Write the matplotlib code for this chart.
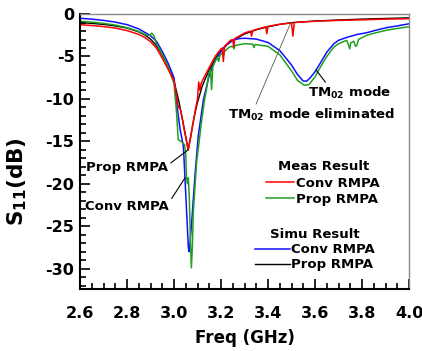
import matplotlib
matplotlib.use('Agg')
import matplotlib.pyplot as plt
from matplotlib.ticker import MultipleLocator

plt.rcParams['font.family'] = ['DejaVu Sans']
plt.rcParams['font.weight'] = 'bold'
plt.rcParams['mathtext.fontset'] = 'dejavusans'

# Simulated, proposed RMPA (black)
sim_prop_f = [2.60, 2.65, 2.70, 2.75, 2.80, 2.85, 2.875, 2.90, 2.925, 2.95, 2.975,
              3.00, 3.02, 3.04, 3.06, 3.07, 3.08, 3.09, 3.10, 3.12, 3.135, 3.15,
              3.175, 3.20, 3.225, 3.25, 3.30, 3.35, 3.40, 3.45, 3.50, 3.60, 3.70,
              3.80, 3.90, 4.00]
sim_prop_db = [-1.00, -1.10, -1.22, -1.40, -1.65, -2.10, -2.45, -2.95, -3.70, -4.80, -6.20,
               -7.90, -10.2, -13.0, -16.0, -14.6, -13.0, -11.6, -10.4, -8.5, -7.5, -6.6,
               -5.3, -4.3, -3.6, -3.1, -2.35, -1.85, -1.50, -1.22, -1.02, -0.82, -0.70,
               -0.60, -0.52, -0.45]

# Simulated, conventional RMPA (blue)
sim_conv_f = [2.60, 2.65, 2.70, 2.75, 2.80, 2.85, 2.90, 2.925, 2.95, 2.975, 3.00,
              3.011, 3.026, 3.04, 3.047, 3.054, 3.061, 3.064, 3.068, 3.075, 3.089,
              3.103, 3.125, 3.15, 3.175, 3.20, 3.225, 3.25, 3.275, 3.30, 3.35, 3.40,
              3.45, 3.50, 3.525, 3.55, 3.565, 3.58, 3.60, 3.62, 3.65, 3.68, 3.70,
              3.735, 3.78, 3.82, 3.86, 3.905, 3.95, 4.00]
sim_conv_db = [-0.50, -0.60, -0.75, -0.95, -1.25, -1.75, -2.55, -3.20, -4.40, -5.80, -7.50,
               -10.5, -13.6, -15.6, -19.5, -23.5, -27.5, -28.0, -27.0, -24.6, -19.1,
               -14.4, -10.1, -7.2, -5.5, -4.4, -3.6, -3.1, -2.9, -2.85, -2.95, -3.35,
               -4.30, -6.00, -7.10, -7.90, -7.90, -7.50, -6.80, -5.90, -4.50, -3.50, -3.10,
               -2.75, -2.40, -2.20, -1.90, -1.60, -1.40, -1.15]

# Measured, proposed RMPA (green)
meas_prop_f = [2.60, 2.65, 2.70, 2.75, 2.80, 2.85, 2.88, 2.895, 2.905, 2.915, 2.925,
               2.95, 2.975, 3.00, 3.011, 3.018, 3.03, 3.045, 3.05, 3.053, 3.057,
               3.061, 3.065, 3.07, 3.074, 3.078, 3.082, 3.096, 3.118, 3.13, 3.14,
               3.148, 3.155, 3.16, 3.165, 3.175, 3.185, 3.19, 3.195, 3.205, 3.21,
               3.215, 3.235, 3.25, 3.255, 3.26, 3.30, 3.335, 3.34, 3.345, 3.40,
               3.45, 3.50, 3.525, 3.555, 3.575, 3.60, 3.62, 3.65, 3.68, 3.70,
               3.735, 3.742, 3.748, 3.752, 3.765, 3.772, 3.778, 3.785, 3.82, 3.86,
               3.905, 3.95, 4.00]
meas_prop_db = [-0.85, -0.95, -1.10, -1.30, -1.60, -2.05, -2.45, -2.55, -2.25, -2.55, -3.50,
                -4.70, -6.20, -8.20, -11.7, -14.8, -15.0, -15.4, -16.5, -19.2, -20.0,
                -19.3, -21.5, -27.0, -29.9, -27.5, -23.4, -17.5, -12.5, -10.1, -8.6,
                -7.0, -6.6, -8.9, -6.2, -5.6, -5.1, -5.6, -4.9, -4.6, -5.0,
                -4.4, -3.9, -3.8, -4.1, -3.7, -3.5, -3.55, -3.95, -3.6, -3.8,
                -4.8, -6.7, -7.8, -8.4, -8.3, -7.4, -6.4, -5.0, -3.9, -3.5,
                -3.1, -3.6, -4.1, -3.4, -3.2, -3.8, -3.7, -3.0, -2.5, -2.2,
                -1.9, -1.7, -1.5]

# Measured, conventional RMPA (red)
meas_conv_f = [2.60, 2.65, 2.70, 2.75, 2.80, 2.85, 2.875, 2.90, 2.925, 2.95, 2.975,
               3.00, 3.018, 3.028, 3.035, 3.045, 3.061, 3.07, 3.08, 3.09, 3.10,
               3.105, 3.11, 3.115, 3.125, 3.15, 3.175, 3.20, 3.205, 3.21, 3.215,
               3.24, 3.25, 3.254, 3.258, 3.30, 3.325, 3.33, 3.335, 3.39, 3.395,
               3.40, 3.45, 3.50, 3.506, 3.512, 3.60, 3.70, 3.80, 3.90, 4.00]
meas_conv_db = [-1.25, -1.35, -1.48, -1.65, -1.95, -2.40, -2.75, -3.25, -4.00, -5.20, -6.50,
                -7.90, -10.9, -11.3, -12.3, -13.8, -16.0, -14.6, -13.0, -11.4, -10.0,
                -8.0, -9.0, -8.2, -7.6, -6.3, -5.0, -4.1, -4.0, -5.6, -3.8,
                -3.1, -3.0, -3.9, -2.9, -2.25, -2.0, -2.6, -1.95, -1.5, -2.3,
                -1.45, -1.2, -1.05, -2.6, -1.0, -0.85, -0.75, -0.68, -0.6, -0.55]

fig = plt.figure(figsize=(4.22, 3.51), dpi=100)
ax = fig.add_axes([0.1896, 0.1766, 0.7796, 0.7834])

l_sp, = ax.plot(sim_prop_f, sim_prop_db, color='black', lw=1.0)
l_sc, = ax.plot(sim_conv_f, sim_conv_db, color='#1010ff', lw=1.1)
l_mp, = ax.plot(meas_prop_f, meas_prop_db, color='#22a022', lw=1.1)
l_mc, = ax.plot(meas_conv_f, meas_conv_db, color='#ff0000', lw=1.1)

ax.set_xlim(2.6, 4.0)
ax.set_ylim(-32.4, 0)
ax.xaxis.set_major_locator(MultipleLocator(0.2))
ax.xaxis.set_minor_locator(MultipleLocator(0.05))
ax.yaxis.set_major_locator(MultipleLocator(5))
ax.yaxis.set_minor_locator(MultipleLocator(1))
ax.xaxis.set_major_formatter(plt.FuncFormatter(lambda v, p: f'{v:.1f}'))
ax.yaxis.set_major_formatter(plt.FuncFormatter(lambda v, p: f'{v:.0f}'))

ax.tick_params(which='both', direction='in', top=False, right=False, width=1.2)
ax.tick_params(which='major', length=7)
ax.tick_params(which='minor', length=4)
ax.tick_params(axis='x', which='major', pad=12, labelsize=11.5)
ax.tick_params(axis='y', which='major', pad=4, labelsize=11.5)
for lab in ax.get_xticklabels() + ax.get_yticklabels():
    lab.set_fontweight('bold')

for s in ['left', 'bottom']:
    ax.spines[s].set_linewidth(1.5)
for s in ['top', 'right']:
    ax.spines[s].set_linewidth(1.0)
    ax.spines[s].set_color('#8a8a8a')

ax.set_xlabel('Freq (GHz)', fontsize=12, fontweight='bold', va='center')
ax.set_ylabel(r'S$_\mathbf{11}$(dB)', fontsize=15.5, fontweight='bold', va='center')
ax.xaxis.set_label_coords(0.5, -0.178)
ax.yaxis.set_label_coords(-0.192, 0.39)

# annotations
arrow = dict(arrowstyle='-', color='black', lw=0.8, shrinkA=0, shrinkB=0)
ax.annotate('Prop RMPA', xy=(3.06, -16.0), xytext=(2.8, -18.1), ha='center', va='center',
            fontsize=9.5, fontweight='bold', arrowprops=dict(arrow, relpos=(1.0, 0.7)))
ax.annotate('Conv RMPA', xy=(3.047, -19.3), xytext=(2.8, -22.7), ha='center', va='center',
            fontsize=9.5, fontweight='bold', arrowprops=dict(arrow, relpos=(1.0, 0.8)))
ax.annotate(r'TM$_\mathbf{02}$ mode', xy=(3.605, -6.6), xytext=(3.745, -9.3),
            ha='center', va='center', fontsize=9.5, fontweight='bold',
            arrowprops=dict(arrow, relpos=(0.24, 1.0)))
ax.annotate(r'TM$_\mathbf{02}$ mode eliminated', xy=(3.498, -0.95), xytext=(3.585, -11.9),
            ha='center', va='center', fontsize=9.5, fontweight='bold',
            arrowprops=dict(arrowstyle='-', color='#555555', lw=0.6, shrinkA=0, shrinkB=0,
                            relpos=(0.16, 1.0)))

leg1 = ax.legend([l_mc, l_mp], ['Conv RMPA', 'Prop RMPA'], title='Meas Result',
                 loc='center', bbox_to_anchor=(0.739, 0.385), frameon=False,
                 prop={'size': 9.5, 'weight': 'bold'}, handlelength=2.1,
                 handletextpad=0.2, labelspacing=0.25, borderpad=0)
leg1.get_title().set_fontweight('bold')
leg1.get_title().set_fontsize(9.5)
ax.add_artist(leg1)
leg2 = ax.legend([l_sc, l_sp], ['Conv RMPA', 'Prop RMPA'], title='Simu Result',
                 loc='center', bbox_to_anchor=(0.714, 0.142), frameon=False,
                 prop={'size': 9.5, 'weight': 'bold'}, handlelength=2.6,
                 handletextpad=0.1, labelspacing=0.15, borderpad=0)
leg2.get_title().set_fontweight('bold')
leg2.get_title().set_fontsize(9.5)

fig.savefig('out.png', dpi=100)
